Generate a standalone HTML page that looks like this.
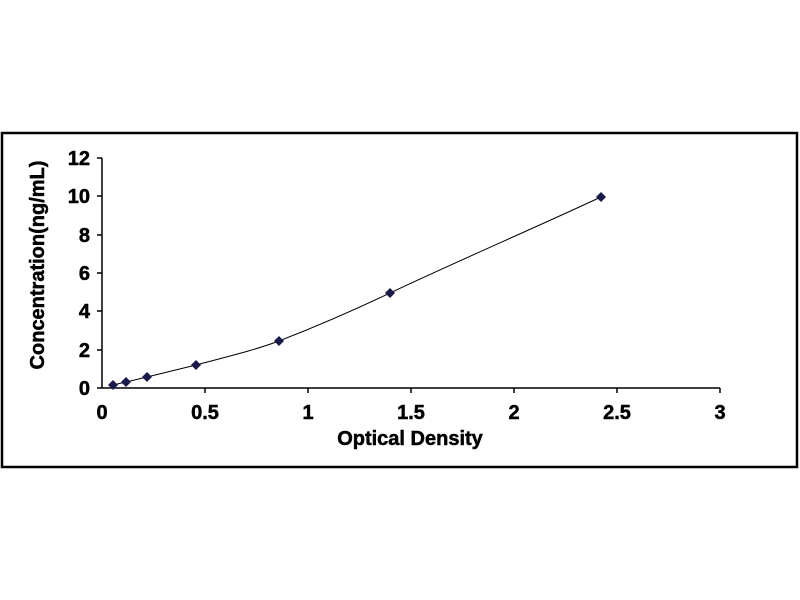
<!DOCTYPE html>
<html><head><style>body{margin:0;background:#fff}svg{display:block}</style></head><body>
<svg width="800" height="600" xmlns="http://www.w3.org/2000/svg" font-family="Liberation Sans, sans-serif" font-weight="bold">
<rect x="2" y="133" width="795" height="334" fill="none" stroke="#000" stroke-width="2.5"/>
<g stroke="#000" stroke-width="1.5">
<line x1="102" y1="158" x2="102" y2="388"/>
<line x1="102" y1="388" x2="720" y2="388"/>
<line x1="97" y1="158" x2="102" y2="158"/><line x1="97" y1="196" x2="102" y2="196"/><line x1="97" y1="235" x2="102" y2="235"/><line x1="97" y1="273" x2="102" y2="273"/><line x1="97" y1="311" x2="102" y2="311"/><line x1="97" y1="350" x2="102" y2="350"/><line x1="97" y1="388" x2="102" y2="388"/>
<line x1="205" y1="388" x2="205" y2="393"/><line x1="308" y1="388" x2="308" y2="393"/><line x1="411" y1="388" x2="411" y2="393"/><line x1="514" y1="388" x2="514" y2="393"/><line x1="617" y1="388" x2="617" y2="393"/><line x1="720" y1="388" x2="720" y2="393"/>
</g>
<g stroke="#000" stroke-width="0.5">
<g font-size="20" text-anchor="end">
<text x="90" y="165">12</text><text x="90" y="203">10</text><text x="90" y="242">8</text><text x="90" y="280">6</text><text x="90" y="318">4</text><text x="90" y="357">2</text><text x="90" y="395">0</text>
</g>
<g font-size="20" text-anchor="middle">
<text x="102" y="419">0</text><text x="205" y="419">0.5</text><text x="308" y="419">1</text><text x="411" y="419">1.5</text><text x="514" y="419">2</text><text x="617" y="419">2.5</text><text x="720" y="419">3</text>
</g>
<text x="410" y="445" font-size="20" text-anchor="middle">Optical Density</text>
<text transform="translate(44,265) rotate(-90)" font-size="20" text-anchor="middle">Concentration(ng/mL)</text>
</g>
<path d="M113,385 L126,382 L147,377 L196,365 C230,356 255,350 279,341 C320,325 350,312 390,293 C460,260 530,230 601,197" fill="none" stroke="#000" stroke-width="1"/>
<g fill="#1a1a4a">
<path d="M113,380l5,5l-5,5l-5,-5z"/><path d="M126,377l5,5l-5,5l-5,-5z"/><path d="M147,372l5,5l-5,5l-5,-5z"/><path d="M196,360l5,5l-5,5l-5,-5z"/><path d="M279,336l5,5l-5,5l-5,-5z"/><path d="M390,288l5,5l-5,5l-5,-5z"/><path d="M601,192l5,5l-5,5l-5,-5z"/>
</g>
</svg>
</body></html>
